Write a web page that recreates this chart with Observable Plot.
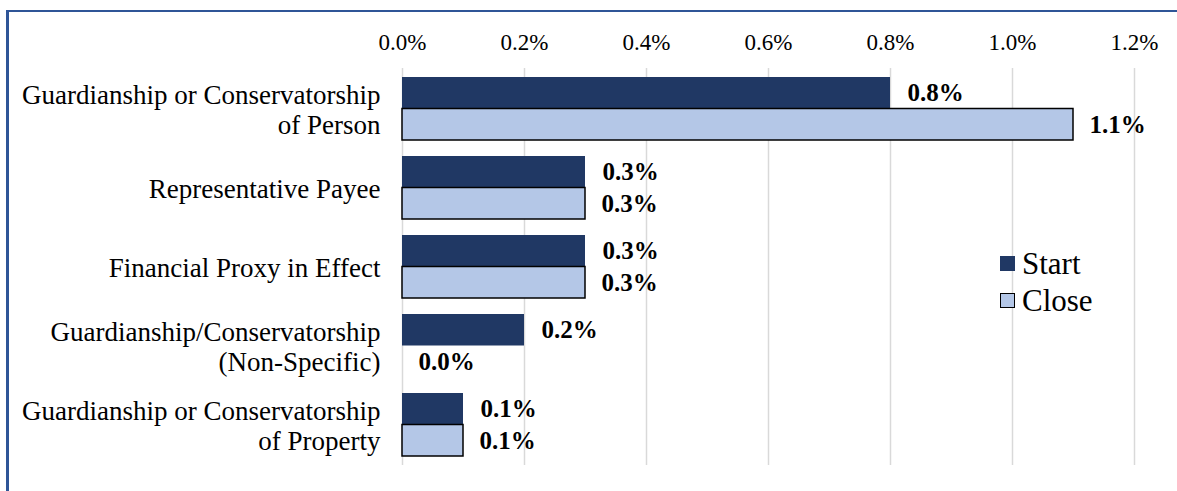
<!DOCTYPE html>
<html><head><meta charset="utf-8">
<script src="https://cdn.jsdelivr.net/npm/d3@7"></script>
<script src="https://cdn.jsdelivr.net/npm/@observablehq/plot@0.6"></script>
<style>
body{margin:0;background:#fff;}
#wrap{position:relative;width:1177px;height:491px;overflow:hidden;}
#chart{position:absolute;left:0;top:0;}
#frameTop{position:absolute;left:6px;top:10px;width:1171px;height:2px;background:#2f5597;pointer-events:none;}
#frameLeft{position:absolute;left:6px;top:10px;width:3px;height:481px;background:#2f5597;pointer-events:none;}
#legend{position:absolute;left:1000px;top:245px;font-family:"Liberation Serif","Times New Roman",serif;font-size:31px;color:#000;}
.row{display:flex;align-items:center;height:37px;line-height:37px;}
.sw{width:15px;height:15px;box-sizing:border-box;margin-right:7px;}
</style></head><body>
<div id="wrap"><div id="chart"></div><div id="frameTop"></div><div id="frameLeft"></div><div id="legend"></div></div>
<script>
const categories = [
  "Guardianship or Conservatorship\nof Person",
  "Representative Payee",
  "Financial Proxy in Effect",
  "Guardianship/Conservatorship\n(Non-Specific)",
  "Guardianship or Conservatorship\nof Property"
];
const series = ["Start", "Close"];
const seriesColors = ["#203864", "#b4c7e7"];
const startValues = [0.8, 0.3, 0.3, 0.2, 0.1];
const closeValues = [1.1, 0.3, 0.3, 0.0, 0.1];
const xTicks = [0, 0.2, 0.4, 0.6, 0.8, 1.0, 1.2];

const startRows = categories.map((c, i) => ({category: c, series: "Start", value: startValues[i]}));
const closeRows = categories.map((c, i) => ({category: c, series: "Close", value: closeValues[i]}));
const fmt = d => d.toFixed(1) + "%";
const font = "'Liberation Serif', 'Times New Roman', serif";
const half = 31.5;

const chart = Plot.plot({
  width: 1177,
  height: 491,
  marginLeft: 402,
  marginRight: 43,
  marginTop: 68,
  marginBottom: 26,
  style: {fontFamily: font, color: "#000", background: "transparent"},
  x: {domain: [0, 1.2], ticks: xTicks},
  y: {domain: categories, paddingInner: 0.205, paddingOuter: 0.114},
  marks: [
    Plot.gridX(xTicks, {stroke: "#d9d9d9", strokeOpacity: 1, strokeWidth: 1.5}),
    Plot.axisX({anchor: "top", ticks: xTicks, tickSize: 0, tickPadding: 19, tickFormat: fmt, fontSize: 23, label: null}),
    Plot.axisY({anchor: "left", tickSize: 0, tickPadding: 22, fontSize: 27, lineHeight: 1.12, label: null}),
    Plot.barX(startRows, {x: "value", y: "category", fill: seriesColors[0], insetBottom: half}),
    Plot.barX(closeRows.filter(d => d.value > 0), {x: "value", y: "category", fill: seriesColors[1], stroke: "#000", strokeWidth: 1.5, insetTop: half}),
    Plot.text(startRows, {x: "value", y: "category", text: d => fmt(d.value), dx: 17, dy: -half / 2, textAnchor: "start", fontWeight: "bold", fontSize: 25, fill: "#000"}),
    Plot.text(closeRows, {x: "value", y: "category", text: d => fmt(d.value), dx: 16, dy: half / 2, textAnchor: "start", fontWeight: "bold", fontSize: 25, fill: "#000"})
  ]
});
document.getElementById("chart").appendChild(chart);

const legend = document.getElementById("legend");
series.forEach((s, i) => {
  const row = document.createElement("div");
  row.className = "row";
  const sw = document.createElement("div");
  sw.className = "sw";
  sw.style.background = seriesColors[i];
  if (s === "Close") sw.style.border = "1.5px solid #000";
  const t = document.createElement("span");
  t.textContent = s;
  row.appendChild(sw);
  row.appendChild(t);
  legend.appendChild(row);
});
</script></body></html>
